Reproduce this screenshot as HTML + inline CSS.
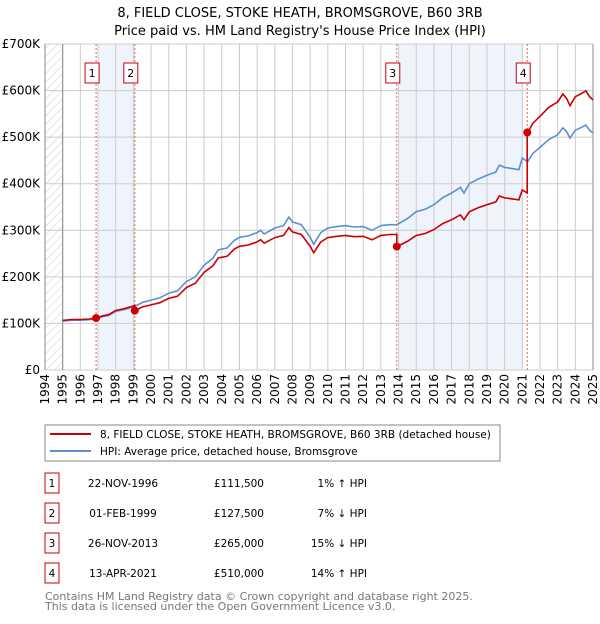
<!DOCTYPE html>
<html><head><meta charset="utf-8"><style>
body{margin:0;background:#fff;font-family:"DejaVu Sans","Liberation Sans",sans-serif;}
svg text{font-family:"DejaVu Sans","Liberation Sans",sans-serif;}
</style></head><body>
<svg id="c" width="600" height="620" xmlns="http://www.w3.org/2000/svg">
<defs><pattern id="hatch" width="6" height="6" patternUnits="userSpaceOnUse" patternTransform="rotate(45)"><line x1="0" y1="0" x2="0" y2="6" stroke="#ccc" stroke-width="1"/></pattern></defs>
<text x="300" y="17" text-anchor="middle" font-size="13">8, FIELD CLOSE, STOKE HEATH, BROMSGROVE, B60 3RB</text>
<text x="300" y="35" text-anchor="middle" font-size="13">Price paid vs. HM Land Registry's House Price Index (HPI)</text>
<g id="plot"></g>
<rect x="45" y="425" width="455" height="36" fill="#fff" stroke="#888"/>
<line x1="50" y1="434" x2="91" y2="434" stroke="#cc0000" stroke-width="2"/>
<text x="100" y="438" font-size="10.5">8, FIELD CLOSE, STOKE HEATH, BROMSGROVE, B60 3RB (detached house)</text>
<line x1="50" y1="451" x2="91" y2="451" stroke="#5b8fd0" stroke-width="2"/>
<text x="100" y="455" font-size="10.5">HPI: Average price, detached house, Bromsgrove</text>
<g id="table"></g>
<text x="45" y="600" font-size="11" fill="#777">Contains HM Land Registry data © Crown copyright and database right 2025.</text>
<text x="45" y="610" font-size="11" fill="#777">This data is licensed under the Open Government Licence v3.0.</text>
</svg>
<script>
const hpiYears=[1995,1995.5,1996,1996.5,1996.9,1997.3,1997.6,1998,1998.5,1999.1,1999.5,2000,2000.5,2001,2001.5,2002,2002.5,2003,2003.5,2003.8,2004.3,2004.7,2005,2005.5,2006,2006.2,2006.4,2007,2007.5,2007.8,2008,2008.5,2009,2009.2,2009.6,2010,2010.5,2011,2011.5,2012,2012.5,2013,2013.5,2013.9,2014.5,2015,2015.5,2016,2016.5,2017,2017.5,2017.7,2018,2018.5,2019,2019.5,2019.7,2020,2020.5,2020.8,2021,2021.3,2021.6,2022,2022.5,2023,2023.3,2023.5,2023.7,2024,2024.3,2024.6,2024.8,2025];
const hpiValues=[105,107,107,108,110,115,117,126,130,137,145,150,155,165,170,190,200,225,240,258,262,278,285,288,295,300,292,305,310,328,318,312,285,270,295,305,308,310,307,308,300,310,312,312,325,340,345,355,370,380,392,380,400,410,418,425,440,435,432,430,455,447,465,478,495,505,520,512,498,515,520,526,515,509];
const saleLabels=["1","2","3","4"];
const saleDates=[1996.89,1999.08,2013.9,2021.28];
const saleDateText=["22-NOV-1996","01-FEB-1999","26-NOV-2013","13-APR-2021"];
const salePrices=[111.5,127.5,265,510];
const salePriceText=["£111,500","£127,500","£265,000","£510,000"];
const saleHpiText=["1% ↑ HPI","7% ↓ HPI","15% ↓ HPI","14% ↑ HPI"];
const yTicks=[0,100,200,300,400,500,600,700];
const yTickLabels=["£0","£100K","£200K","£300K","£400K","£500K","£600K","£700K"];
const xStart=1994,xEnd=2025;
const NS="http://www.w3.org/2000/svg";
const L=45,R=593,T=44,B=370;
const X=t=>L+(t-xStart)/(xEnd-xStart)*(R-L);
const Y=v=>B-v/700*(B-T);
function mk(tag,attrs,parent){const e=document.createElementNS(NS,tag);for(const k in attrs)e.setAttribute(k,attrs[k]);parent.appendChild(e);return e;}
const g=document.getElementById('plot');
function hpiAt(t){for(let i=0;i<hpiYears.length-1;i++){if(t<=hpiYears[i+1]){const f=(t-hpiYears[i])/(hpiYears[i+1]-hpiYears[i]);return hpiValues[i]+f*(hpiValues[i+1]-hpiValues[i]);}}return hpiValues[hpiValues.length-1];}
let h=mk('rect',{x:L,y:T,width:X(1995)-L,height:B-T,fill:'url(#hatch)'},g);


const bands=[[1997,saleDates[1]],[2014,2021]];
bands.forEach((b,i)=>{const r=mk('rect',{x:X(b[0]),y:T,width:X(b[1])-X(b[0]),height:B-T,fill:'#eef3fc'},g);

});
for(let yr=xStart;yr<=xEnd;yr++){const l=mk('line',{x1:X(yr),x2:X(yr),y1:T,y2:B,stroke:'#ccc','stroke-width':1},g);


const tx=mk('text',{x:0,y:0,'font-size':12,'text-anchor':'end',transform:`translate(${X(yr)+4},${B+4}) rotate(-90)`},g);tx.textContent=yr;

}
yTicks.forEach((v,i)=>{const l=mk('line',{x1:L,x2:R,y1:Y(v),y2:Y(v),stroke:'#ccc','stroke-width':1},g);


const tx=mk('text',{x:40,y:Y(v)+4,'font-size':12,'text-anchor':'end'},g);tx.textContent=yTickLabels[i];

});
mk('line',{x1:L,x2:L,y1:T,y2:B,stroke:'#888'},g);
mk('line',{x1:X(1995),x2:X(1995),y1:T,y2:B,stroke:'#888'},g);
mk('line',{x1:R,x2:R,y1:T,y2:B,stroke:'#888'},g);
saleDates.forEach((d,i)=>{const l=mk('line',{x1:X(d),x2:X(d),y1:T,y2:B,stroke:'#e06060','stroke-dasharray':'2,2'},g);


const r=mk('rect',{x:X(d)-11,y:63,width:14,height:20,fill:'#fff',stroke:'#cc0000'},g);


const t=mk('text',{x:X(d)-4,y:77,'font-size':11,'text-anchor':'middle'},g);t.textContent=saleLabels[i];});
let pts=hpiYears.map((t,i)=>X(t).toFixed(1)+','+Y(hpiValues[i]).toFixed(1)).join(' ');
const hp=mk('polyline',{points:pts,fill:'none',stroke:'#5b8fd0','stroke-width':1.6},g);


let rp=[];
function ratioAt(t){let k=0;while(k<saleDates.length-1&&t>=saleDates[k+1])k++;return salePrices[k]/hpiAt(saleDates[k]);}
const times=hpiYears.concat(saleDates).sort((a,b)=>a-b);
times.forEach(t=>{const idx=saleDates.indexOf(t);if(idx>0){rp.push([t,hpiAt(t)*salePrices[idx-1]/hpiAt(saleDates[idx-1])]);}rp.push([t,hpiAt(t)*ratioAt(t)]);});
const pl=mk('polyline',{points:rp.map(p=>X(p[0]).toFixed(1)+','+Y(p[1]).toFixed(1)).join(' '),fill:'none',stroke:'#cc0000','stroke-width':1.6},g);


saleDates.forEach((d,i)=>{const c=mk('circle',{cx:X(d),cy:Y(salePrices[i]),r:4,fill:'#cc0000'},g);

});
const tb=document.getElementById('table');
saleLabels.forEach((s,i)=>{const y=483+i*30;
const r=mk('rect',{x:45,y:y-10,width:14,height:20,fill:'#fff',stroke:'#cc0000'},tb);


const cells=[[52,s,'middle'],[123,saleDateText[i],'middle'],[264,salePriceText[i],'end'],[367,saleHpiText[i],'end']];
cells.forEach((c,j)=>{const t=mk('text',{x:c[0],y:y+4,'font-size':10.5,'text-anchor':c[2]},tb);t.textContent=c[1];

});});
</script>
</body></html>
